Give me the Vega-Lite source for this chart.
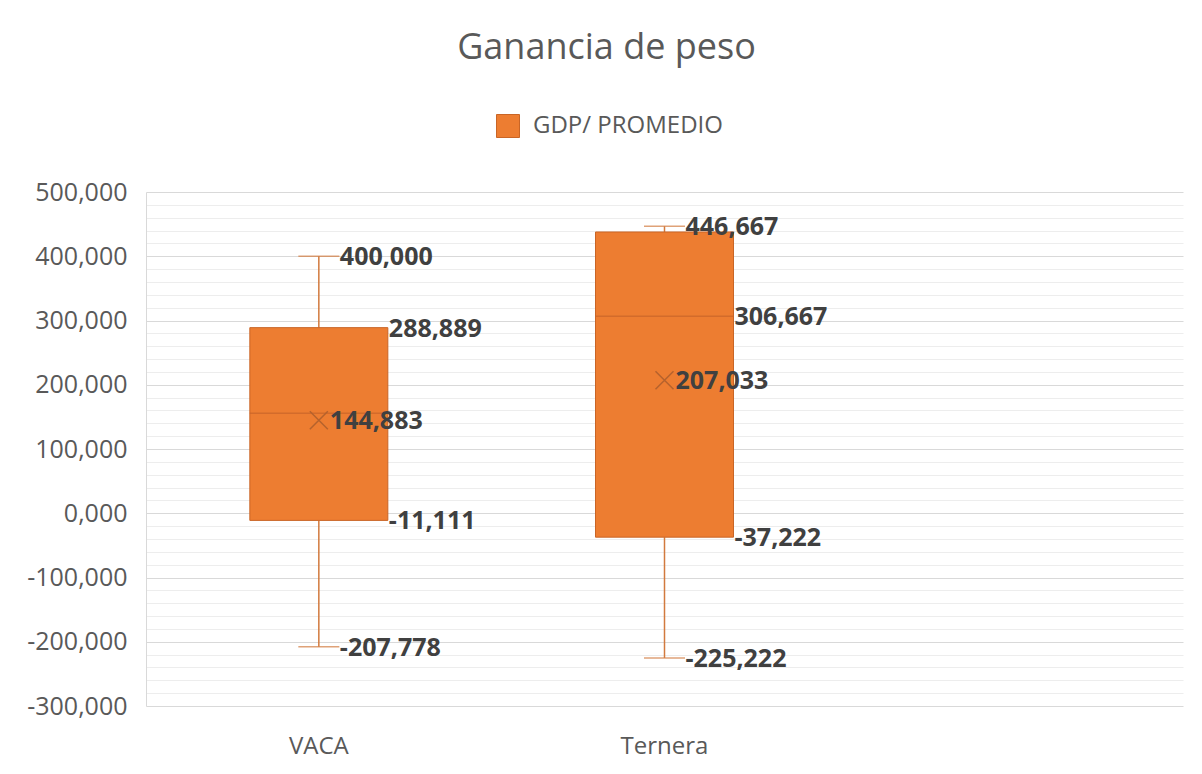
{
  "$schema": "https://vega.github.io/schema/vega-lite/v6.json",
  "width": 1037,
  "height": 514,
  "autosize": {"type": "none"},
  "padding": {"left": 146, "top": 192, "right": 19, "bottom": 68},
  "background": "white",
  "config": {
    "locale": {"number": {"decimal": ",", "thousands": ".", "grouping": [3], "currency": ["", ""], "minus": "-"}},
    "view": {"stroke": null},
    "font": "Open Sans"
  },
  "title": {
    "text": "Ganancia de peso",
    "fontSize": 36,
    "font": "Open Sans",
    "fontWeight": "normal",
    "color": "#595959",
    "anchor": "middle",
    "dx": -58,
    "offset": 47
  },
  "datasets": {
    "stats": [
      {"cat": "VACA", "min": -207.778, "q1": -11.111, "median": 155.556, "q3": 288.889, "max": 400.0, "mean": 144.883},
      {"cat": "Ternera", "min": -225.222, "q1": -37.222, "median": 306.667, "q3": 437.778, "max": 446.667, "mean": 207.033}
    ]
  },
  "data": {"name": "stats"},
  "encoding": {
    "x": {
      "field": "cat",
      "type": "nominal",
      "sort": null,
      "scale": {"domain": ["VACA", "Ternera", ""], "paddingInner": 0, "paddingOuter": 0},
      "axis": {
        "title": null,
        "labelAngle": 0,
        "labelFontSize": 24,
        "labelFont": "Open Sans",
        "labelColor": "#595959",
        "ticks": false,
        "domain": false,
        "grid": false,
        "labelPadding": 28
      }
    }
  },
  "resolve": {"axis": {"y": "independent"}},
  "layer": [
    {
      "mark": {"type": "rule", "color": "#D27A3E", "strokeWidth": 1.5},
      "encoding": {
        "y": {
          "field": "min",
          "type": "quantitative",
          "scale": {"domain": [-300, 500], "nice": false, "zero": false},
          "axis": {
            "orient": "right",
            "title": null,
            "labels": false,
            "ticks": false,
            "domain": false,
            "grid": true,
            "gridColor": "#EDEDED",
            "gridWidth": 1,
            "values": [-280, -260, -240, -220, -180, -160, -140, -120, -80, -60, -40, -20, 20, 40, 60, 80, 120, 140, 160, 180, 220, 240, 260, 280, 320, 340, 360, 380, 420, 440, 460, 480]
          }
        },
        "y2": {"field": "q1"}
      }
    },
    {
      "mark": {"type": "rule", "color": "#D27A3E", "strokeWidth": 1.5},
      "encoding": {
        "y": {"field": "q3", "type": "quantitative", "axis": null},
        "y2": {"field": "max"}
      }
    },
    {
      "transform": [{"fold": ["min", "max"], "as": ["stat", "value"]}],
      "mark": {"type": "tick", "color": "#D27A3E", "size": 41, "thickness": 1.5},
      "encoding": {
        "y": {"field": "value", "type": "quantitative", "axis": null}
      }
    },
    {
      "mark": {"type": "bar", "size": 138, "stroke": "#C96526", "strokeWidth": 1},
      "encoding": {
        "y": {
          "field": "q1",
          "type": "quantitative",
          "axis": {
            "orient": "left",
            "title": null,
            "values": [-300, -200, -100, 0, 100, 200, 300, 400, 500],
            "format": ".3f",
            "labelFontSize": 25,
            "labelFont": "Open Sans",
            "labelColor": "#595959",
            "ticks": false,
            "domain": true,
            "domainColor": "#D9D9D9",
            "grid": true,
            "gridColor": "#D9D9D9",
            "labelPadding": 19
          }
        },
        "y2": {"field": "q3"},
        "color": {
          "datum": "GDP/ PROMEDIO",
          "type": "nominal",
          "scale": {"range": ["#ED7D31"]},
          "legend": {
            "title": null,
            "orient": "none",
            "legendX": 350,
            "legendY": -78,
            "symbolType": "square",
            "symbolSize": 529,
            "symbolStrokeColor": "#C96526",
            "symbolStrokeWidth": 1,
            "labelFontSize": 24,
            "labelFont": "Open Sans",
            "labelColor": "#595959",
            "labelOffset": 13,
            "labelLimit": 500,
            "padding": 0
          }
        }
      }
    },
    {
      "mark": {"type": "tick", "color": "#C8642A", "size": 138, "thickness": 1.5},
      "encoding": {
        "y": {"field": "median", "type": "quantitative", "axis": null}
      }
    },
    {
      "mark": {"type": "point", "shape": "M-1,-1L1,1M1,-1L-1,1", "filled": false, "color": "#B5622D", "size": 324, "strokeWidth": 1.5, "opacity": 1},
      "encoding": {
        "y": {"field": "mean", "type": "quantitative", "axis": null}
      }
    },
    {
      "transform": [{"fold": ["min", "max"], "as": ["stat", "value"]}],
      "mark": {"type": "text", "align": "left", "baseline": "middle", "dx": 21, "dy": 1, "fontSize": 25, "fontWeight": "bold", "font": "Open Sans", "color": "#404040"},
      "encoding": {
        "y": {"field": "value", "type": "quantitative", "axis": null},
        "text": {"field": "value", "type": "quantitative", "format": ".3f"}
      }
    },
    {
      "transform": [
        {"fold": ["q1", "q3", "median"], "as": ["stat", "value"]},
        {"filter": "!((datum.cat == 'VACA' && datum.stat == 'median') || (datum.cat == 'Ternera' && datum.stat == 'q3'))"}
      ],
      "mark": {"type": "text", "align": "left", "baseline": "middle", "dx": 70, "dy": 1, "fontSize": 25, "fontWeight": "bold", "font": "Open Sans", "color": "#404040"},
      "encoding": {
        "y": {"field": "value", "type": "quantitative", "axis": null},
        "text": {"field": "value", "type": "quantitative", "format": ".3f"}
      }
    },
    {
      "mark": {"type": "text", "align": "left", "baseline": "middle", "dx": 11, "dy": 1, "fontSize": 25, "fontWeight": "bold", "font": "Open Sans", "color": "#404040"},
      "encoding": {
        "y": {"field": "mean", "type": "quantitative", "axis": null},
        "text": {"field": "mean", "type": "quantitative", "format": ".3f"}
      }
    }
  ]
}
